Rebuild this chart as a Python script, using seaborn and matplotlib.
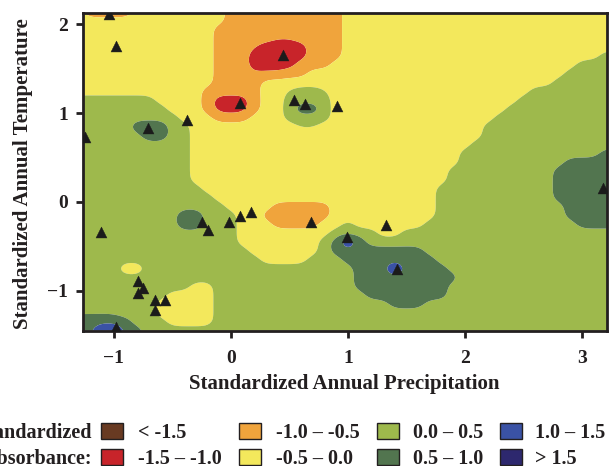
import numpy as np
import pandas as pd
import matplotlib
matplotlib.use("Agg")
import matplotlib.pyplot as plt
from matplotlib.patches import Rectangle
import seaborn as sns

# ---- absorbance surface -------------------------------------------------
# Grid nodes every 0.1 units; one letter per node gives the absorbance there.
# Upper-case letters sit at class centres; lower-case letters, E and B are
# nodes lying near a class edge or inside small isolated patches.
grid_x = np.round(np.arange(-1.3, 3.301, 0.1), 2)
grid_y = np.round(np.arange(2.15, -1.451, -0.1), 2)
class_value = {"R": -1.25, "o": -0.95, "O": -0.75, "y": -0.45, "Y": -0.25,
               "g": 0.05, "G": 0.25, "h": 0.45, "D": 0.75, "E": 0.92,
               "B": 1.8}
surface_rows = [
    "YooooYYYYY" "YYYOOOOOOO" "OOOYYYYYYY" "YYYYYYYYYY" "YYYYYYY",  # 2.15
    "YYYYYYYYYY" "YYYOOOOOOO" "OOOYYYYYYY" "YYYYYYYYYY" "YYYYYYY",  # 2.05
    "YYYYYYYYYY" "YYOOOOOOOO" "OOOYYYYYYY" "YYYYYYYYYY" "YYYYYYY",  # 1.95
    "YYYYYYYYYY" "YYOOOOOooO" "OOOYYYYYYY" "YYYYYYYYYY" "YYYYYYY",  # 1.85
    "YYYYYYYYYY" "YYOOOoRRRR" "OOOYYYYYYY" "YYYYYYYYYY" "YYYYYYY",  # 1.75
    "YYYYYYYYYY" "YYOOORRRRR" "OOOYYYYYYY" "YYYYYYYYYY" "YYYYYGG",  # 1.65
    "YYYYYYYYYY" "YYOOORRRRO" "OOYYYYYYYY" "YYYYYYYYYY" "YYYGGGG",  # 1.55
    "YYYYYYYYYY" "YYOOOoooOO" "YYYYYYYYYY" "YYYYYYYYYY" "YYGGGGG",  # 1.45
    "YYYYYYYYYY" "YYOOOOYYYY" "YYYYYYYYYY" "YYYYYYYYYY" "YGGGGGG",  # 1.35
    "YYYYYYYYYY" "YOOOOOYYgG" "GgYYYYYYYY" "YYYYYYYYYG" "GGGGGGG",  # 1.25
    "GGGGGGGYYY" "YORRROYYGG" "GGYYYYYYYY" "YYYYYYYYGG" "GGGGGGG",  # 1.15
    "GGGGGGGGYY" "YORRROYYGE" "EGYYYYYYYY" "YYYYYYYGGG" "GGGGGGG",  # 1.05
    "GGGGGGGGGY" "YYOOOYYYGG" "GGYYYYYYYY" "YYYYYYGGGG" "GGGGGGG",  # 0.95
    "GGGGGEEEGG" "YYYYYYYYYg" "gYYYYYYYYY" "YYYYYGGGGG" "GGGGGGG",  # 0.85
    "GGGGGGEEGG" "YYYYYYYYYY" "YYYYYYYYYY" "YYYYYGGGGG" "GGGGGGG",  # 0.75
    "GGGGGGGGGG" "YYYYYYYYYY" "YYYYYYYYYY" "YYYYGGGGGG" "GGGGGGG",  # 0.65
    "GGGGGGGGGG" "YYYYYYYYYY" "YYYYYYYYYY" "YYYGGGGGGG" "GGGGGDD",  # 0.55
    "GGGGGGGGGG" "YYYYYYYYYY" "YYYYYYYYYY" "YYYGGGGGGG" "GGDDDDD",  # 0.45
    "GGGGGGGGGG" "YYYYYYYYYY" "YYYYYYYYYY" "YYGGGGGGGG" "GDDDDDD",  # 0.35
    "GGGGGGGGGG" "YYYYYYYYYY" "YYYYYYYYYY" "YYGGGGGGGG" "GDDDDDD",  # 0.25
    "GGGGGGGGGG" "GYYYYYYYYY" "YYYYYYYYYY" "YGGGGGGGGG" "GDDDDDD",  # 0.15
    "GGGGGGGGGG" "GGYYYYYYYY" "YYYYYYYYYY" "YGGGGGGGGG" "GDDDDDD",  # 0.05
    "GGGGGGGGGG" "GGGYYYYOOO" "OOYYYYYYYY" "YGGGGGGGGG" "GGDDDDD",  # -0.05
    "GGGGGGGGGE" "EGGGYYOOOO" "OOYYYYYYYY" "YGGGGGGGGG" "GGDDDDD",  # -0.15
    "GGGGGGGGGE" "EGGGYYYOOO" "OYYGYYYYYY" "GGGGGGGGGG" "GGGDDDD",  # -0.25
    "GGGGGGGGGG" "GGGGYYYYYY" "YYGGGGYYGG" "GGGGGGGGGG" "GGGGGGG",  # -0.35
    "GGGGGGGGGG" "GGGGYYYYYY" "YGDBDGGGGG" "GGGGGGGGGG" "GGGGGGG",  # -0.45
    "GGGGGGGGGG" "GGGGGYYYYY" "YGDDDDDDDD" "GGGGGGGGGG" "GGGGGGG",  # -0.55
    "GGGGGGGGGG" "GGGGGGYYYY" "GGGDDDDDDD" "DGGGGGGGGG" "GGGGGGG",  # -0.65
    "GGGGyyGGGG" "GGGGGGGGGG" "GGGGDDDBDD" "DDGGGGGGGG" "GGGGGGG",  # -0.75
    "GGGGGGGGGG" "GGGGGGGGGG" "GGGGDDDDDD" "DDDGGGGGGG" "GGGGGGG",  # -0.85
    "GGGGGGGGGG" "YYGGGGGGGG" "GGGGDDDDDD" "DDGGGGGGGG" "GGGGGGG",  # -0.95
    "GGGGGGGGYY" "YYGGGGGGGG" "GGGGGDDDDD" "DDGGGGGGGG" "GGGGGGG",  # -1.05
    "GGGGGGGYYY" "YYGGGGGGGG" "GGGGGGGDDD" "GGGGGGGGGG" "GGGGGGG",  # -1.15
    "hhhhGGGYYY" "YYGGGGGGGG" "GGGGGGGGGG" "GGGGGGGGGG" "GGGGGGG",  # -1.25
    "DDDDDGGGYY" "YYGGGGGGGG" "GGGGGGGGGG" "GGGGGGGGGG" "GGGGGGG",  # -1.35
    "DDBBDDGGGG" "GGGGGGGGGG" "GGGGGGGGGG" "GGGGGGGGGG" "GGGGGGG",  # -1.45
]

# ---- legend classes -----------------------------------------------------
class_levels = [-9.0, -1.5, -1.0, -0.5, 0.0, 0.5, 1.0, 1.5, 9.0]
class_colors = ["#683a22", "#c8242a", "#f0a43c", "#f3e85c",
                "#9eb94c", "#52754f", "#3a52a5", "#2d286e"]
class_labels = ["< -1.5", "-1.5 \u2013 -1.0", "-1.0 \u2013 -0.5", "-0.5 \u2013 0.0",
                "0.0 \u2013 0.5", "0.5 \u2013 1.0", "1.0 \u2013 1.5", "> 1.5"]

# ---- sampling sites -----------------------------------------------------
site_precip = [-1.04, -0.98, 0.445, 0.078, 0.54, 0.633, 0.904, -0.706, -0.378,
               -1.246, -1.112, -0.244, -0.196, -0.014, 0.080, 0.172, 0.682,
               0.989, 1.325, 1.416, 3.182, -0.796, -0.748, -0.796, -0.651,
               -0.560, -0.651, -0.982]
site_temp = [2.117, 1.757, 1.655, 1.114, 1.148, 1.10, 1.08, 0.829, 0.922,
             0.734, -0.337, -0.224, -0.318, -0.224, -0.160, -0.111, -0.224,
             -0.393, -0.262, -0.750, 0.152, -0.893, -0.964, -1.025, -1.099,
             -1.107, -1.220, -1.408]


def refine(a, factor, axis):
    """Linear refinement of a grid along one axis."""
    n = a.shape[axis]
    src = np.arange(n)
    dst = np.linspace(0, n - 1, (n - 1) * factor + 1)
    return np.apply_along_axis(lambda v: np.interp(dst, src, v), axis, a)


def soften(a, sigma):
    """Separable Gaussian smoothing with edge padding (sigma in grid steps)."""
    r = int(3 * sigma + 1)
    k = np.exp(-0.5 * (np.arange(-r, r + 1) / sigma) ** 2)
    k /= k.sum()
    for axis in (0, 1):
        pad = [(0, 0), (0, 0)]
        pad[axis] = (r, r)
        p = np.pad(a, pad, mode="edge")
        a = np.apply_along_axis(lambda v: np.convolve(v, k, mode="valid"), axis, p)
    return a


# ---- style --------------------------------------------------------------
sns.set_theme(style="ticks")
plt.rcParams["font.family"] = ["Liberation Serif", "DejaVu Serif"]
plt.rcParams["font.weight"] = "bold"
plt.rcParams["axes.labelweight"] = "bold"
ink = "#231f20"

W, H = 609, 466
fig = plt.figure(figsize=(W / 100, H / 100), dpi=100)
ax = fig.add_axes([82.6 / W, 1 - 330.7 / H, (606.7 - 82.6) / W, (330.7 - 12.7) / H])

Z = np.array([[class_value[c] for c in row] for row in surface_rows])[::-1]
ys = grid_y[::-1]
F = 5
Zf = soften(refine(refine(Z, F, 0), F, 1), 0.5 * F)
xf = np.linspace(grid_x[0], grid_x[-1], (len(grid_x) - 1) * F + 1)
yf = np.linspace(ys[0], ys[-1], (len(ys) - 1) * F + 1)
ax.contourf(xf, yf, Zf, levels=class_levels, colors=class_colors,
            antialiased=True, zorder=1)

sites = pd.DataFrame({"precip": site_precip, "temp": site_temp})
sns.scatterplot(data=sites, x="precip", y="temp", marker="^", s=62,
                color="#1b1b1b", edgecolor="#1b1b1b", linewidth=0.3,
                ax=ax, zorder=3, legend=False)

ax.set_xlim(-1.267, 3.211)
ax.set_ylim(-1.45, 2.132)
ax.set_xticks([-1, 0, 1, 2, 3])
ax.set_yticks([-1, 0, 1, 2])
ax.set_xlabel("")
ax.set_ylabel("")
for s in ax.spines.values():
    s.set_visible(True)
    s.set_linewidth(2.0)
    s.set_color(ink)
ax.tick_params(axis="both", direction="out", length=5, width=2, color=ink,
               labelcolor=ink, labelsize=14)
ax.tick_params(axis="x", pad=9)
ax.tick_params(axis="y", pad=5.5)
for lab in ax.get_xticklabels() + ax.get_yticklabels():
    lab.set_fontweight("bold")

fig.text(344.7 / W, 1 - 389 / H, "Standardized Annual Precipitation",
         ha="center", va="baseline", fontsize=15, fontweight="bold", color=ink)
fig.text(23 / W, 1 - 174 / H, "Standardized Annual Temperature",
         ha="center", va="center", rotation=90, fontsize=15,
         fontweight="bold", color=ink)

# ---- legend -------------------------------------------------------------
col_patch_x = [101, 239, 377, 500]
col_text_x = [137.5, 276, 413, 535]
row_baseline_y = [437.5, 464]
for k, (lab, colr) in enumerate(zip(class_labels, class_colors)):
    c, r = divmod(k, 2)
    yb = row_baseline_y[r]
    fig.add_artist(Rectangle((col_patch_x[c] / W, 1 - (yb + 1.2) / H),
                             22 / W, 15.8 / H, transform=fig.transFigure,
                             facecolor=colr, edgecolor=ink, linewidth=1.0))
    fig.text(col_text_x[c] / W, 1 - yb / H, lab, ha="left", va="baseline",
             fontsize=14.5, fontweight="bold", color=ink)
fig.text(92 / W, 1 - row_baseline_y[0] / H, "Standardized", ha="right",
         va="baseline", fontsize=14.5, fontweight="bold", color=ink)
fig.text(92 / W, 1 - row_baseline_y[1] / H, "Absorbance:", ha="right",
         va="baseline", fontsize=14.5, fontweight="bold", color=ink)

fig.savefig("out.png", dpi=100, facecolor="white")
